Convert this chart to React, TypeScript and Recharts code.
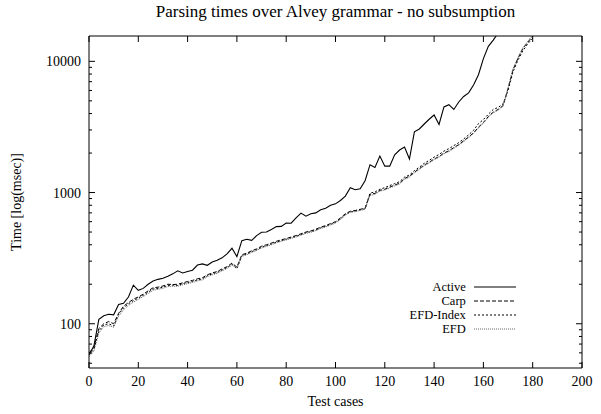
import { LineChart, Line, XAxis, YAxis } from 'recharts';

// test case index (shared x values)
const cases = [
  0, 2, 4, 6, 8, 10, 12, 14, 16, 18, 20, 22, 24, 26, 28, 30, 32, 34, 36, 38,
  40, 42, 44, 46, 48, 50, 52, 54, 56, 58, 60, 62, 64, 66, 68, 70, 72, 74, 76, 78,
  80, 82, 84, 86, 88, 90, 92, 94, 96, 98, 100, 102, 104, 106, 108, 110, 112, 114, 116, 118,
  120, 122, 124, 126, 128, 130, 132, 134, 136, 138, 140, 142, 144, 146, 148, 150, 152, 154, 156, 158,
  160, 162, 164, 166, 168, 170, 172, 174, 176, 178, 180,
];

const active = [
  58, 68, 108, 115, 118, 117, 140, 143, 160, 197, 180, 186, 200, 212, 218, 222, 230, 240, 253, 244,
  250, 256, 280, 286, 279, 295, 305, 318, 341, 376, 325, 430, 440, 432, 470, 498, 500, 523, 550, 552,
  585, 584, 640, 697, 660, 690, 700, 740, 760, 800, 820, 870, 940, 1090, 1050, 1070, 1230, 1630, 1550, 1900,
  1590, 1590, 1940, 2110, 2220, 1800, 2900, 3050, 3330, 3620, 3900, 3300, 4490, 4670, 4300, 4900, 5400, 5750, 6600, 7900,
  10500, 13000, 14500, 16500, 20000, null, null, null, null, null, null,
];

const carp = [
  60, 66, 92, 100, 104, 100, 120, 136, 145, 154, 160, 168, 178, 188, 190, 194, 200, 199, 200, 205,
  210, 214, 220, 224, 236, 244, 250, 262, 272, 290, 270, 336, 345, 360, 372, 390, 400, 412, 425, 436,
  446, 458, 470, 485, 500, 510, 525, 545, 560, 580, 600, 640, 690, 720, 730, 745, 760, 970, 985, 1040,
  1060, 1100, 1140, 1180, 1280, 1330, 1430, 1520, 1620, 1700, 1800, 1880, 2000, 2080, 2200, 2320, 2480, 2650, 2850, 3150,
  3420, 3800, 4100, 4300, 4600, 6200, 8600, 10500, 12500, 14000, 15500,
];

const efdIndex = [
  58, 64, 88, 98, 100, 96, 118, 132, 142, 150, 157, 165, 174, 184, 186, 190, 196, 197, 196, 202,
  206, 210, 216, 220, 232, 240, 246, 257, 268, 284, 262, 330, 340, 354, 366, 383, 394, 405, 418, 430,
  440, 452, 463, 478, 494, 503, 518, 538, 552, 572, 592, 630, 680, 712, 722, 738, 752, 990, 1010, 1060,
  1090, 1130, 1170, 1210, 1310, 1360, 1470, 1560, 1670, 1760, 1860, 1950, 2070, 2160, 2280, 2400, 2560, 2750, 2980, 3350,
  3600, 3950, 4300, 4450, 4750, 6000, 8300, 10200, 12000, 13600, 15000,
];

const efd = [
  56, 62, 85, 95, 97, 94, 114, 128, 138, 146, 153, 161, 170, 180, 183, 186, 192, 193, 193, 198,
  202, 206, 212, 216, 228, 236, 242, 253, 264, 280, 266, 326, 336, 350, 362, 378, 389, 400, 413, 425,
  435, 447, 458, 473, 488, 498, 512, 532, 546, 566, 586, 622, 672, 705, 716, 731, 746, 950, 970, 1025,
  1045, 1085, 1120, 1160, 1260, 1310, 1410, 1500, 1600, 1680, 1780, 1860, 1975, 2050, 2170, 2290, 2450, 2620, 2820, 3100,
  3380, 3750, 4050, 4250, 4550, 6300, 8800, 10700, 12700, 14200, 15800,
];

const xTicks = [0, 20, 40, 60, 80, 100, 120, 140, 160, 180, 200];
const yMajor = [100, 1000, 10000];
const yTicks = [
  50, 60, 70, 80, 90, 100, 200, 300, 400, 500, 600, 700, 800, 900,
  1000, 2000, 3000, 4000, 5000, 6000, 7000, 8000, 9000, 10000,
];
const yDomain = [46, 15600];

const data = cases.map((c, i) => ({
  c, active: active[i], carp: carp[i], efdIndex: efdIndex[i], efd: efd[i],
}));

const series = [
  { key: 'active', name: 'Active', dash: undefined, color: '#000', width: 1.1 },
  { key: 'carp', name: 'Carp', dash: '4 2', color: '#000', width: 1 },
  { key: 'efdIndex', name: 'EFD-Index', dash: '2 2', color: '#000', width: 1 },
  { key: 'efd', name: 'EFD', dash: '1 1', color: '#666', width: 1 },
];

const FONT = '"Liberation Serif", "DejaVu Serif", serif';
const LEFT = 89;
const RIGHT = 582;
const TOP = 36;
const BOTTOM = 368;

const YTick = (props: any) => {
  const { y, payload, side } = props;
  const major = yMajor.includes(payload.value);
  const len = major ? 6 : 3;
  if (side === 'r') {
    return <line x1={RIGHT} x2={RIGHT - len} y1={y} y2={y} stroke="#000" />;
  }
  return (
    <g>
      <line x1={LEFT} x2={LEFT + len} y1={y} y2={y} stroke="#000" />
      {major && (
        <text x={LEFT - 8} y={y + 5} textAnchor="end" fontSize={14} fontFamily={FONT} fill="#000">
          {payload.value}
        </text>
      )}
    </g>
  );
};

const XTick = (props: any) => {
  const { x, payload, side } = props;
  if (side === 't') {
    return <line x1={x} x2={x} y1={TOP} y2={TOP + 6} stroke="#000" />;
  }
  return (
    <g>
      <line x1={x} x2={x} y1={BOTTOM} y2={BOTTOM - 6} stroke="#000" />
      <text x={x} y={BOTTOM + 18} textAnchor="middle" fontSize={14} fontFamily={FONT} fill="#000">
        {payload.value}
      </text>
    </g>
  );
};

const App = () => {
  return (
    <div style={{ position: 'absolute', left: 0, top: 0, width: 601, height: 414, background: '#fff', fontFamily: FONT }}>
      <LineChart width={601} height={414} data={data} margin={{ top: 0, right: 0, bottom: 0, left: 0 }}>
        <XAxis xAxisId="b" dataKey="c" type="number" domain={[0, 200]} ticks={xTicks} interval={0}
          height={414 - BOTTOM} tick={<XTick side="b" />} tickLine={false} tickSize={0}
          axisLine={{ stroke: '#000' }} allowDataOverflow />
        <XAxis xAxisId="t" orientation="top" dataKey="c" type="number" domain={[0, 200]} ticks={xTicks} interval={0}
          height={TOP} tick={<XTick side="t" />} tickLine={false} tickSize={0}
          axisLine={{ stroke: '#000' }} allowDataOverflow />
        <YAxis yAxisId="l" scale="log" type="number" domain={yDomain} ticks={yTicks} interval={0}
          width={LEFT} tick={<YTick side="l" />} tickLine={false} tickSize={0}
          axisLine={{ stroke: '#000' }} allowDataOverflow />
        <YAxis yAxisId="r" orientation="right" scale="log" type="number" domain={yDomain} ticks={yTicks} interval={0}
          width={601 - RIGHT} tick={<YTick side="r" />} tickLine={false} tickSize={0}
          axisLine={{ stroke: '#000' }} allowDataOverflow />
        {series.map((s) => (
          <Line key={s.key} xAxisId="b" yAxisId="l" dataKey={s.key} name={s.name} type="linear"
            stroke={s.color} strokeWidth={s.width} strokeDasharray={s.dash} dot={false}
            isAnimationActive={false} connectNulls={false} />
        ))}
      </LineChart>

      <div style={{ position: 'absolute', left: LEFT, width: RIGHT - LEFT, top: 2, textAlign: 'center', fontSize: 17 }}>
        Parsing times over Alvey grammar - no subsumption
      </div>
      <div style={{ position: 'absolute', left: LEFT, width: RIGHT - LEFT, top: 394, textAlign: 'center', fontSize: 14 }}>
        Test cases
      </div>
      <div style={{
        position: 'absolute', left: 17, top: (TOP + BOTTOM) / 2, fontSize: 14, whiteSpace: 'nowrap',
        transform: 'translate(-50%, -50%) rotate(-90deg)',
      }}>
        Time [log(msec)]
      </div>

      <div style={{ position: 'absolute', left: 330, top: 280, width: 200 }}>
        {series.map((s) => (
          <div key={s.key} style={{ display: 'flex', alignItems: 'center', height: 14, fontSize: 12.5, lineHeight: '14px' }}>
            <span style={{ width: 145, textAlign: 'right' }}>{s.name}</span>
            <svg width={60} height={14} style={{ marginLeft: 8 }}>
              <line x1={0} x2={42} y1={7} y2={7} stroke={s.color} strokeWidth={s.width} strokeDasharray={s.dash} />
            </svg>
          </div>
        ))}
      </div>
    </div>
  );
};

export default App;
